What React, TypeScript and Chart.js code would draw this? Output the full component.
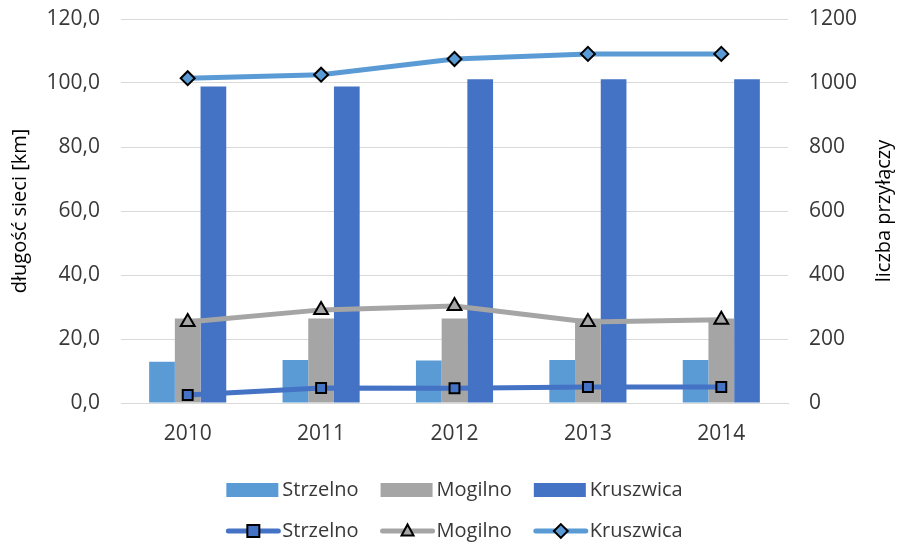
import React, { useEffect, useRef } from 'react';
import { Chart, registerables } from 'chart.js';

Chart.register(...registerables);

const years = ['2010', '2011', '2012', '2013', '2014'];
const seriesNames = ['Strzelno', 'Mogilno', 'Kruszwica'];
// długość sieci [km] (bars, left axis)
const barStrzelno = [12.9, 13.4, 13.3, 13.4, 13.4];
const barMogilno = [26.4, 26.4, 26.4, 26.4, 26.4];
const barKruszwica = [98.9, 98.9, 101.2, 101.2, 101.2];
// liczba przyłączy (lines, right axis)
const lineStrzelno = [25, 47, 46, 50, 50];
const lineMogilno = [253, 291, 303, 253, 260];
const lineKruszwica = [1015, 1026, 1075, 1091, 1091];

const leftTicks = [0, 20, 40, 60, 80, 100, 120];
const rightTicks = [0, 200, 400, 600, 800, 1000, 1200];
const leftTitle = 'długość sieci [km]';
const rightTitle = 'liczba przyłączy';

const C_LIGHT = '#5B9BD5';
const C_GRAY = '#A5A5A5';
const C_BLUE = '#4472C4';
const TEXT = '#383838';
const FONT = "'Open Sans', sans-serif";
const FS = 20;
const TICK_FS = 21;

function drawMarker(ctx: CanvasRenderingContext2D, style: string, x: number, y: number, r: number, fill: string) {
  ctx.save();
  ctx.beginPath();
  if (style === 'rect') {
    ctx.rect(x - r, y - r, 2 * r, 2 * r);
  } else if (style === 'triangle') {
    ctx.moveTo(x, y - r * 1.1);
    ctx.lineTo(x + r, y + r * 0.75);
    ctx.lineTo(x - r, y + r * 0.75);
    ctx.closePath();
  } else {
    ctx.moveTo(x, y - r * 1.15);
    ctx.lineTo(x + r * 1.15, y);
    ctx.lineTo(x, y + r * 1.15);
    ctx.lineTo(x - r * 1.15, y);
    ctx.closePath();
  }
  ctx.fillStyle = fill;
  ctx.fill();
  ctx.lineWidth = 2;
  ctx.strokeStyle = '#000';
  ctx.stroke();
  ctx.restore();
}

const legendPlugin = {
  id: 'twoRowLegend',
  afterDraw(chart: any) {
    const ctx: CanvasRenderingContext2D = chart.ctx;
    const ds = chart.data.datasets;
    const bars = ds.filter((d: any) => d.type !== 'line');
    const lines = ds.filter((d: any) => d.type === 'line');
    const ca = chart.chartArea;
    const cx = (ca.left + ca.right) / 2;
    ctx.save();
    // right axis title, reading bottom-to-top
    ctx.save();
    ctx.translate(884, (ca.top + ca.bottom) / 2);
    ctx.rotate(-Math.PI / 2);
    ctx.font = `${FS}px ${FONT}`;
    ctx.fillStyle = '#000';
    ctx.textAlign = 'center';
    ctx.textBaseline = 'middle';
    ctx.fillText(rightTitle, 0, 0);
    ctx.restore();

    ctx.font = `${FS}px ${FONT}`;
    ctx.textBaseline = 'middle';
    ctx.fillStyle = TEXT;
    const symW = 52;
    const gap = 4;
    const spacing = 22;
    const rows = [
      { items: bars, y: 490 },
      { items: lines, y: 531 },
    ];
    rows.forEach((row) => {
      const widths = row.items.map((d: any) => symW + gap + ctx.measureText(d.label).width);
      const total = widths.reduce((a: number, b: number) => a + b, 0) + spacing * (widths.length - 1);
      let x = cx - total / 2;
      row.items.forEach((d: any, i: number) => {
        if (d.type === 'line') {
          ctx.save();
          ctx.strokeStyle = d.borderColor;
          ctx.lineWidth = 5;
          ctx.lineCap = 'round';
          ctx.beginPath();
          ctx.moveTo(x + 2, row.y);
          ctx.lineTo(x + symW, row.y);
          ctx.stroke();
          ctx.restore();
          drawMarker(ctx, d.pointStyle, x + symW / 2 + 1, row.y, 6, d.pointBackgroundColor);
        } else {
          ctx.fillStyle = d.backgroundColor;
          ctx.fillRect(x, row.y - 7, symW, 14);
        }
        ctx.fillStyle = TEXT;
        ctx.textAlign = 'left';
        ctx.fillText(d.label, x + symW + gap, row.y);
        x += widths[i] + spacing;
      });
    });
    ctx.restore();
  },
};

export default function App() {
  const ref = useRef<HTMLCanvasElement | null>(null);
  useEffect(() => {
    document.body.style.margin = '0';
    if (!ref.current) return;
    const chart = new Chart(ref.current, {
      type: 'bar',
      data: {
        labels: years,
        datasets: [
          {
            type: 'line', label: seriesNames[0], data: lineStrzelno, yAxisID: 'y1',
            borderColor: C_BLUE, borderWidth: 5, pointStyle: 'rect', pointRadius: 7,
            pointBackgroundColor: C_BLUE, pointBorderColor: '#000', pointBorderWidth: 2,
            order: 0,
          } as any,
          {
            type: 'line', label: seriesNames[1], data: lineMogilno, yAxisID: 'y1',
            borderColor: C_GRAY, borderWidth: 5, pointStyle: 'triangle', pointRadius: 8,
            pointBackgroundColor: C_GRAY, pointBorderColor: '#000', pointBorderWidth: 2,
            order: 0,
          } as any,
          {
            type: 'line', label: seriesNames[2], data: lineKruszwica, yAxisID: 'y1',
            borderColor: C_LIGHT, borderWidth: 5, pointStyle: 'rectRot', pointRadius: 7,
            pointBackgroundColor: C_LIGHT, pointBorderColor: '#000', pointBorderWidth: 2,
            order: 0,
          } as any,
          { type: 'bar', label: seriesNames[0], data: barStrzelno, backgroundColor: C_LIGHT, yAxisID: 'y', order: 1 },
          { type: 'bar', label: seriesNames[1], data: barMogilno, backgroundColor: C_GRAY, yAxisID: 'y', order: 1 },
          { type: 'bar', label: seriesNames[2], data: barKruszwica, backgroundColor: C_BLUE, yAxisID: 'y', order: 1 },
        ],
      },
      options: {
        animation: false,
        responsive: false,
        datasets: { bar: { categoryPercentage: 0.578, barPercentage: 1 } },
        layout: { padding: { top: 19, bottom: 93, left: 0, right: 0 } },
        plugins: { legend: { display: false }, tooltip: { enabled: false } },
        scales: {
          x: {
            grid: { display: false, drawTicks: false },
            border: { display: true, color: '#D9D9D9', width: 1 },
            ticks: { color: TEXT, font: { family: FONT, size: TICK_FS }, padding: 18 },
            afterFit: (s: any) => { s.height = 48; },
          },
          y: {
            position: 'left', min: 0, max: 120,
            afterBuildTicks: (s: any) => { s.ticks = leftTicks.map((v) => ({ value: v })); },
            ticks: {
              color: TEXT, font: { family: FONT, size: TICK_FS }, padding: 0,
              callback: (v: any) => Number(v).toFixed(1).replace('.', ','),
            },
            grid: { color: '#D9D9D9', drawTicks: true, tickLength: 21, tickColor: 'rgba(0,0,0,0)', lineWidth: 1 },
            border: { display: false },
            title: { display: true, text: leftTitle, color: '#000', font: { family: FONT, size: FS }, padding: { top: 8, bottom: 0 } },
            afterFit: (s: any) => { s.width = 121; },
          },
          y1: {
            position: 'right', min: 0, max: 1200,
            afterBuildTicks: (s: any) => { s.ticks = rightTicks.map((v) => ({ value: v })); },
            ticks: { color: TEXT, font: { family: FONT, size: TICK_FS }, padding: 0, callback: (v: any) => String(v) },
            grid: { display: false, drawTicks: true, tickLength: 21, tickColor: 'rgba(0,0,0,0)' },
            border: { display: false },
            afterFit: (s: any) => { s.width = 112; },
          },
        },
      },
      plugins: [legendPlugin],
    });
    return () => chart.destroy();
  }, []);
  return (
    <div style={{ position: 'absolute', left: 0, top: 0, width: 900, height: 544, background: '#fff' }}>
      <canvas ref={ref} width={900} height={544} style={{ width: 900, height: 544, display: 'block' }} />
    </div>
  );
}
